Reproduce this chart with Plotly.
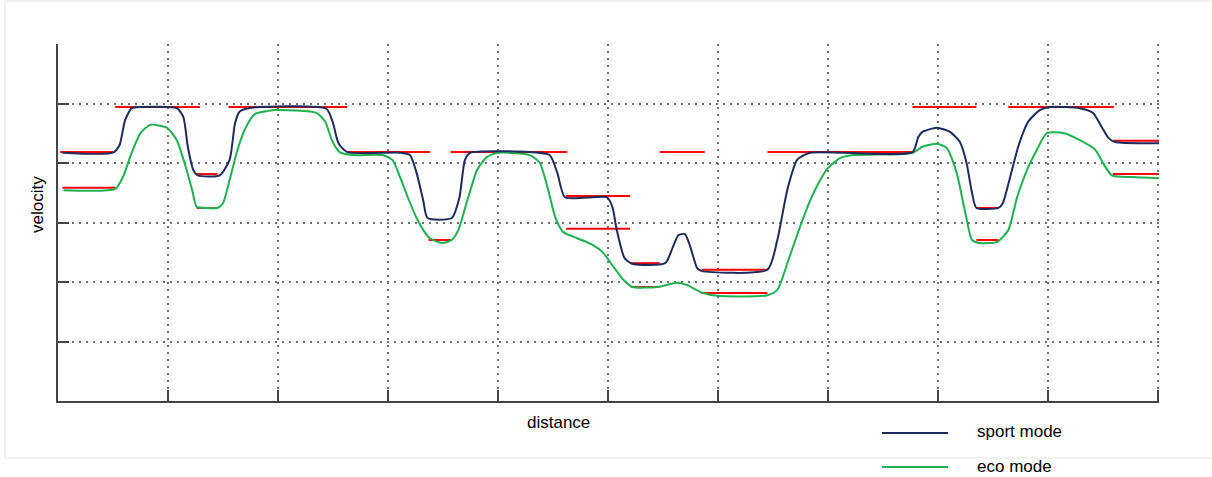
import plotly.graph_objects as go

# ---- data (x: distance units, one per grid column; y: velocity units) ----
sport_x = [0.04, 0.50, 0.56, 0.61, 0.67, 0.75, 1.08, 1.14, 1.18, 1.23, 1.27, 1.47, 1.56, 1.61, 1.65, 1.73,
           2.44, 2.50, 2.55, 2.63, 3.11, 3.20, 3.26, 3.32, 3.36, 3.58, 3.65, 3.70, 3.75, 4.29, 4.47, 4.54,
           4.61, 4.99, 5.04, 5.08, 5.15, 5.22, 5.52, 5.59, 5.64, 5.70, 5.75, 5.81, 5.85, 6.45, 6.54, 6.63,
           6.72, 6.84, 7.77, 7.82, 7.86, 7.99, 8.11, 8.20, 8.26, 8.31, 8.35, 8.55, 8.59, 8.65, 8.73, 8.82,
           8.93, 9.02, 9.29, 9.41, 9.49, 9.55, 9.61, 10.02]
sport_y = [4.18, 4.18, 4.31, 4.73, 4.93, 4.95, 4.93, 4.78, 4.28, 3.89, 3.80, 3.80, 4.06, 4.68, 4.87, 4.93,
           4.92, 4.68, 4.34, 4.19, 4.18, 4.14, 3.84, 3.38, 3.08, 3.08, 3.43, 4.06, 4.18, 4.19, 4.14, 3.84,
           3.43, 3.43, 3.27, 2.88, 2.41, 2.31, 2.32, 2.59, 2.79, 2.81, 2.59, 2.24, 2.19, 2.21, 2.71, 3.55,
           4.06, 4.18, 4.19, 4.44, 4.53, 4.60, 4.53, 4.36, 4.01, 3.50, 3.25, 3.25, 3.33, 3.72, 4.28, 4.70,
           4.90, 4.95, 4.93, 4.85, 4.61, 4.43, 4.36, 4.34]

eco_x = [0.05, 0.52, 0.59, 0.67, 0.75, 0.84, 0.99, 1.08, 1.15, 1.22, 1.26, 1.35, 1.45, 1.50, 1.56, 1.64,
         1.72, 1.79, 1.90, 1.99, 2.35, 2.43, 2.49, 2.56, 2.68, 2.95, 3.04, 3.11, 3.18, 3.26, 3.32, 3.38,
         3.49, 3.58, 3.64, 3.73, 3.81, 3.90, 4.00, 4.29, 4.38, 4.45, 4.52, 4.59, 4.72, 4.86, 4.95, 5.05,
         5.14, 5.22, 5.45, 5.63, 5.72, 5.86, 5.99, 6.45, 6.54, 6.64, 6.75, 6.84, 6.93, 7.00, 7.11, 7.23,
         7.77, 7.86, 7.99, 8.08, 8.17, 8.25, 8.31, 8.38, 8.54, 8.64, 8.72, 8.81, 8.90, 8.99, 9.14, 9.29,
         9.43, 9.50, 9.58, 9.77, 10.02]
eco_y = [3.55, 3.57, 3.77, 4.18, 4.51, 4.65, 4.60, 4.39, 4.01, 3.55, 3.27, 3.25, 3.25, 3.33, 3.72, 4.28,
         4.65, 4.83, 4.88, 4.90, 4.85, 4.70, 4.39, 4.19, 4.14, 4.14, 4.06, 3.77, 3.43, 3.08, 2.88, 2.74,
         2.66, 2.71, 2.88, 3.43, 3.89, 4.11, 4.18, 4.14, 4.01, 3.60, 3.10, 2.85, 2.74, 2.63, 2.51, 2.26,
         2.04, 1.92, 1.92, 1.99, 1.95, 1.82, 1.77, 1.78, 1.87, 2.37, 2.95, 3.38, 3.72, 3.92, 4.09, 4.14,
         4.18, 4.28, 4.33, 4.26, 3.84, 3.16, 2.71, 2.66, 2.68, 2.88, 3.43, 3.89, 4.23, 4.51, 4.51, 4.39,
         4.23, 4.01, 3.80, 3.77, 3.75]

# red reference (target) velocity segments
ref_x0 = [0.02, 0.04, 0.52, 1.26, 1.26, 1.55, 2.63, 3.37, 3.57, 4.62, 4.62, 5.21, 5.21, 5.47, 5.85, 5.85,
          6.45, 7.77, 8.35, 8.35, 8.64, 9.59, 9.59]
ref_x1 = [0.50, 0.52, 1.29, 1.45, 1.45, 2.63, 3.38, 3.57, 4.63, 5.20, 5.20, 5.47, 5.47, 5.88, 6.45, 6.45,
          7.77, 8.35, 8.55, 8.55, 9.60, 10.02, 10.02]
ref_y = [4.19, 3.59, 4.95, 3.82, 3.25, 4.95, 4.19, 2.71, 4.19, 3.45, 2.90, 2.32, 1.92, 4.19, 2.21, 1.82,
         4.19, 4.95, 3.25, 2.71, 4.95, 4.38, 3.82]

x_ticks = [1, 2, 3, 4, 5, 6, 7, 8, 9, 10]
y_ticks = [1, 2, 3, 4, 5]

series_names = ["sport mode", "eco mode"]
series_colors = ["#1b2b5c", "#1fb050"]
ref_color = "#ff0000"

FONT = "Liberation Sans, Arial, sans-serif"

fig = go.Figure()

# red reference segments (drawn first, below the curves)
rx, ry = [], []
for a, b, v in zip(ref_x0, ref_x1, ref_y):
    rx += [a, b, None]
    ry += [v, v, None]
fig.add_trace(go.Scatter(x=rx, y=ry, mode="lines", line=dict(color=ref_color, width=2),
                         showlegend=False, hoverinfo="skip"))

fig.add_trace(go.Scatter(x=eco_x, y=eco_y, mode="lines", name=series_names[1],
                         line=dict(color=series_colors[1], width=2, shape="spline", smoothing=0.6),
                         showlegend=False))
fig.add_trace(go.Scatter(x=sport_x, y=sport_y, mode="lines", name=series_names[0],
                         line=dict(color=series_colors[0], width=2, shape="spline", smoothing=0.6),
                         showlegend=False))

axis_common = dict(showline=True, linecolor="#444444", linewidth=2,
                   ticks="inside", ticklen=11, tickwidth=2, tickcolor="#444444",
                   showticklabels=False, zeroline=False,
                   showgrid=True, gridcolor="#707070", gridwidth=2, griddash="2px,5px")

fig.update_xaxes(range=[0, 10.01], tickvals=x_ticks, **axis_common)
fig.update_yaxes(range=[0, 6.01], tickvals=y_ticks, **axis_common)

W, H = 1212, 477
L, R, T, B = 58, 53, 44, 76
pw, ph = W - L - R, H - T - B


def px(xp):
    return (xp - L) / pw


def py(yp):
    return (H - B - yp) / ph


shapes = []
# faint outer frame
frame = dict(type="line", xref="paper", yref="paper", line=dict(color="#e3e3e3", width=1.2))
shapes.append(dict(frame, x0=px(5), x1=px(5), y0=py(1), y1=py(458)))
shapes.append(dict(frame, x0=px(5), x1=px(1212), y0=py(458), y1=py(458)))
shapes.append(dict(frame, x0=px(5), x1=px(1212), y0=py(1), y1=py(1)))

# custom legend (line samples)
legend_rows = [433, 467]
annotations = []
for name, col, row in zip(series_names, series_colors, legend_rows):
    shapes.append(dict(type="line", xref="paper", yref="paper", x0=px(882), x1=px(948),
                       y0=py(row), y1=py(row), line=dict(color=col, width=2)))
    annotations.append(dict(text=name, xref="paper", yref="paper", x=px(975), y=py(row - 1),
                            xanchor="left", yanchor="middle", showarrow=False,
                            font=dict(family=FONT, size=17, color="#000000")))

annotations.append(dict(text="distance", xref="paper", yref="paper", x=px(558), y=py(422),
                        xanchor="center", yanchor="middle", showarrow=False,
                        font=dict(family=FONT, size=17, color="#000000")))
annotations.append(dict(text="velocity", xref="paper", yref="paper", x=px(38), y=py(205),
                        xanchor="center", yanchor="middle", showarrow=False, textangle=-90,
                        font=dict(family=FONT, size=17, color="#000000")))

fig.update_layout(width=W, height=H, margin=dict(l=L, r=R, t=T, b=B, autoexpand=False),
                  paper_bgcolor="white", plot_bgcolor="white", showlegend=False,
                  shapes=shapes, annotations=annotations, font=dict(family=FONT))

fig.write_html("out.html", config={"displayModeBar": False},
               post_script="document.body.style.margin='0';document.body.style.overflow='hidden';")
